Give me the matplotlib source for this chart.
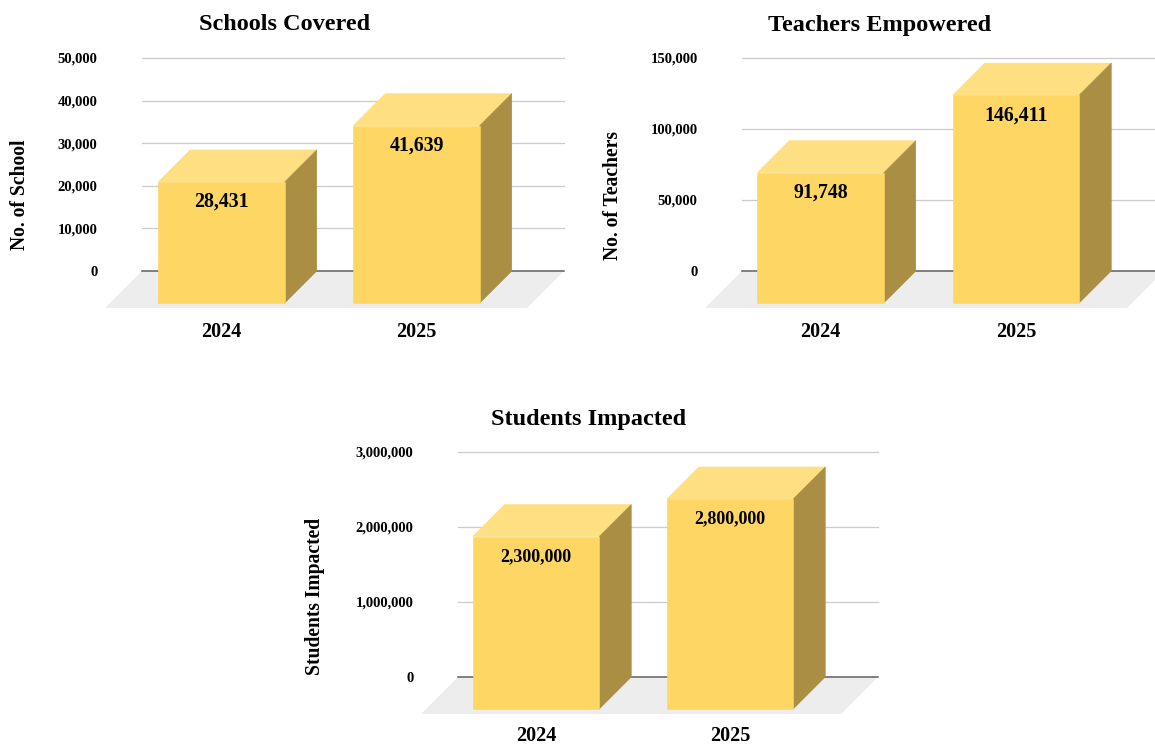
import matplotlib
matplotlib.use("Agg")
import matplotlib.pyplot as plt
from matplotlib.ticker import FuncFormatter

plt.rcParams['font.family'] = ['Liberation Serif', 'DejaVu Serif']
plt.rcParams['font.weight'] = 'bold'

W, H = 1155, 744

years = ['2024', '2025']
schools = [28431, 41639]
teachers = [91748, 146411]
students = [2300000, 2800000]

school_ticks = [0, 10000, 20000, 30000, 40000, 50000]
teacher_ticks = [0, 50000, 100000, 150000]
student_ticks = [0, 1000000, 2000000, 3000000]

FRONT = '#FDD663'
TOP = '#FEDF82'
SIDE = '#A98E43'
FLOOR = '#EDEDED'
GRID = '#CCCCCC'
ZERO = '#5F5F5F'

BAR_W = 126.5   # px
DEPTH = 32      # px, 3d offset of the bars
FLOOR_D = 37    # px, floor reaches this far below the zero line


def draw_panel(values, ticks, title, ylabel, left, right, top, bottom,
               first_bar, spacing, title_xy, ylabel_xy, xpad=36.5, label_size=14.3):
    ax = fig.add_axes([left / W, 1 - bottom / H, (right - left) / W, (bottom - top) / H])
    ax.set_xlim((left - first_bar) / spacing, (right - first_bar) / spacing)
    ax.set_ylim(ticks[0], ticks[-1])
    ax.patch.set_visible(False)
    for s in ax.spines.values():
        s.set_visible(False)

    # px to data units
    px_y = (ticks[-1] - ticks[0]) / (bottom - top)
    dx = DEPTH / spacing
    dy = DEPTH * px_y
    bw = BAR_W / spacing
    fx = FLOOR_D / spacing
    fy = FLOOR_D * px_y

    x0, x1 = ax.get_xlim()
    ax.fill([x0, x1, x1 - fx, x0 - fx], [0, 0, -fy, -fy], color=FLOOR, lw=0, clip_on=False, zorder=1)

    for t in ticks[1:]:
        ax.plot([x0, x1], [t, t], color=GRID, lw=0.9, zorder=2, clip_on=False)
    ax.plot([x0, x1], [0, 0], color=ZERO, lw=1.1, zorder=2, clip_on=False)

    xs = list(range(len(values)))
    for x, v in zip(xs, values):
        xl, xr = x - bw / 2, x + bw / 2
        # small same colour edge so no white seam shows between the faces
        ax.fill([xl, xr, xr + dx, xl + dx], [v - dy, v - dy, v, v], facecolor=TOP, edgecolor=TOP,
                lw=0.4, zorder=3, clip_on=False)
        ax.fill([xr, xr + dx, xr + dx, xr], [-dy, 0, v, v - dy], facecolor=SIDE, edgecolor=SIDE,
                lw=0.4, zorder=3, clip_on=False)
        ax.annotate(f'{v:,}', (x, v - dy), xytext=(0, -14.4), textcoords='offset points',
                    ha='center', va='center', fontsize=label_size, fontweight='bold', color='black', zorder=5)
    ax.bar(xs, values, width=bw, bottom=-dy, color=FRONT, edgecolor=FRONT, lw=0.4, zorder=4, clip_on=False)

    ax.set_xticks(xs, years)
    ax.set_yticks(ticks)
    ax.yaxis.set_major_formatter(FuncFormatter(lambda v, p: f'{int(v):,}'))
    ax.tick_params(axis='x', length=0, pad=xpad, labelsize=14.5)
    ax.tick_params(axis='y', length=0, pad=32, labelsize=10.5)

    fig.text(title_xy[0] / W, 1 - title_xy[1] / H, title, ha='center', va='center',
             fontsize=17.5, fontweight='bold')
    fig.text(ylabel_xy[0] / W, 1 - ylabel_xy[1] / H, ylabel, ha='center', va='center',
             rotation=90, fontsize=14.1, fontweight='bold')


fig = plt.figure(figsize=(W / 100, H / 100), dpi=100, facecolor='white')

draw_panel(schools, school_ticks, 'Schools Covered', 'No. of School',
           142, 564, 58, 271, 221.5, 195, (285, 25), (20, 195))
draw_panel(teachers, teacher_ticks, 'Teachers Empowered', 'No. of Teachers',
           742, 1164, 58, 271, 820.5, 195.5, (880, 25), (613, 195))
draw_panel(students, student_ticks, 'Students Impacted', 'Students Impacted',
           458, 878, 452, 677, 536, 194, (589, 419), (315, 596), xpad=35, label_size=13)

fig.savefig('out.png', dpi=100)
